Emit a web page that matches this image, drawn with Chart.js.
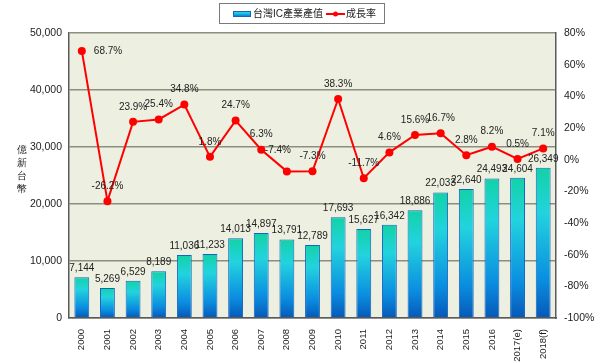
<!DOCTYPE html>
<html>
<head>
<meta charset="utf-8">
<script src="https://cdn.jsdelivr.net/npm/chart.js@4/dist/chart.umd.min.js"></script>
<style>
  html, body { margin: 0; padding: 0; background: #fff; }
  #wrap { position: relative; width: 600px; height: 363px; }
</style>
</head>
<body>
<div id="wrap"><canvas id="chart"></canvas></div>
<script>
// 台灣IC產業產值 (億新台幣) 與成長率
const years = ['2000', '2001', '2002', '2003', '2004', '2005', '2006', '2007', '2008', '2009',
  '2010', '2011', '2012', '2013', '2014', '2015', '2016', '2017(e)', '2018(f)'];
const output = [7144, 5269, 6529, 8189, 11036, 11233, 14013, 14897, 13791, 12789,
  17693, 15627, 16342, 18886, 22033, 22640, 24493, 24604, 26349];
const growth = [68.7, -26.2, 23.9, 25.4, 34.8, 1.8, 24.7, 6.3, -7.4, -7.3,
  38.3, -11.7, 4.6, 15.6, 16.7, 2.8, 8.2, 0.5, 7.1];
const seriesNames = ['台灣IC產業產值', '成長率'];
const yTitle = ['億', '新', '台', '幣'];

const FONT = "'Liberation Sans', 'Noto Sans CJK TC', sans-serif";
const TITLE_FONT = "'DejaVu Sans', sans-serif";
const C = {
  plot: '#EDEFE0', grid: '#8E8E7E', axis: '#5A5A5A', text: '#222',
  red: '#FF0000', barEdge: '#1565C0',
  g0: '#12D2A6', g1: '#22D3DE', g2: '#0A8DE0', g3: '#0658B8'
};

Chart.defaults.font.family = FONT;
Chart.defaults.font.size = 10;
Chart.defaults.color = C.text;

function barGradient(ctx, top, bottom) {
  const g = ctx.createLinearGradient(0, top, 0, bottom);
  g.addColorStop(0, C.g0);
  g.addColorStop(0.3, C.g1);
  g.addColorStop(0.75, C.g2);
  g.addColorStop(1, C.g3);
  return g;
}

// fondo del área de trazado
const plotBg = {
  id: 'plotBg',
  beforeDraw(chart) {
    const a = chart.chartArea, c = chart.ctx;
    c.save();
    c.fillStyle = C.plot;
    c.fillRect(a.left, a.top, a.right - a.left, a.bottom - a.top);
    c.restore();
  }
};

// etiquetas de datos + título vertical + leyenda con borde
const labelShift = { 0: { dx: 12, dy: 0, align: 'left' }, 8: { dx: -9, dy: -21 } };
const extras = {
  id: 'extras',
  afterDatasetsDraw(chart) {
    const c = chart.ctx;
    c.save();
    c.font = '10px ' + FONT;
    c.fillStyle = C.text;
    // barras
    const mb = chart.getDatasetMeta(1);
    c.textAlign = 'center';
    c.textBaseline = 'bottom';
    mb.data.forEach((el, i) => {
      c.fillText(output[i].toLocaleString('en-US'), el.x, el.y - 4);
    });
    // línea
    const ml = chart.getDatasetMeta(0);
    c.textBaseline = 'middle';
    ml.data.forEach((el, i) => {
      const s = labelShift[i] || { dx: 0, dy: -15 };
      c.textAlign = s.align || 'center';
      c.fillText(growth[i].toFixed(1) + '%', el.x + s.dx, el.y + s.dy);
    });
    c.restore();
  },
  afterDraw(chart) {
    const c = chart.ctx;
    c.save();
    // título eje izquierdo (caracteres apilados, sin rotar)
    c.font = '10px ' + TITLE_FONT;
    c.fillStyle = C.text;
    c.textAlign = 'center';
    c.textBaseline = 'middle';
    yTitle.forEach((ch, i) => c.fillText(ch, 22, 150 + i * 13));

    // leyenda
    const bx = 219.5, by = 3.5, bw = 165, bh = 20;
    c.fillStyle = '#fff';
    c.fillRect(bx, by, bw, bh);
    c.strokeStyle = '#7A7A7A';
    c.lineWidth = 1;
    c.strokeRect(bx, by, bw, bh);
    c.textAlign = 'left';
    c.font = '10px ' + FONT;
    // muestra barra
    c.fillStyle = barGradient(c, 11, 17);
    c.fillRect(233, 11, 18, 6);
    c.strokeStyle = C.barEdge;
    c.strokeRect(233.5, 11.5, 17, 5);
    c.fillStyle = C.text;
    c.fillText(seriesNames[0], 253, 14);
    // muestra línea
    c.strokeStyle = C.red;
    c.lineWidth = 2;
    c.beginPath();
    c.moveTo(326, 14);
    c.lineTo(345, 14);
    c.stroke();
    c.fillStyle = C.red;
    c.beginPath();
    c.arc(335.5, 14, 2.5, 0, Math.PI * 2);
    c.fill();
    c.fillStyle = C.text;
    c.fillText(seriesNames[1], 346, 14);
    c.restore();
  }
};

new Chart(document.getElementById('chart'), {
  type: 'bar',
  data: {
    labels: years,
    datasets: [
      {
        type: 'line', label: seriesNames[1], data: growth, yAxisID: 'y1', order: 0,
        borderColor: C.red, borderWidth: 2, tension: 0,
        pointRadius: 4, pointBackgroundColor: C.red, pointBorderWidth: 0
      },
      {
        type: 'bar', label: seriesNames[0], data: output, yAxisID: 'y', order: 1,
        backgroundColor: (ctx) => {
          const ys = ctx.chart.scales.y;
          if (!ys || ctx.raw == null) return C.g2;
          const top = ys.getPixelForValue(ctx.raw), base = ys.getPixelForValue(0);
          if (!Number.isFinite(top) || !Number.isFinite(base) || top === base) return C.g2;
          return barGradient(ctx.chart.ctx, top, base);
        },
        borderColor: C.barEdge, borderWidth: 1,
        categoryPercentage: 1, barPercentage: 0.58
      }
    ]
  },
  options: {
    responsive: true, maintainAspectRatio: false, animation: false,
    layout: { padding: { top: 33, left: 0, right: 0, bottom: 0 } },
    plugins: { legend: { display: false }, tooltip: { enabled: false } },
    scales: {
      x: {
        grid: { display: false },
        border: { color: C.axis, width: 1.5 },
        ticks: { maxRotation: 90, minRotation: 90, padding: 3, autoSkip: false, font: { size: 9.5 } },
        afterFit: (s) => { s.height = 45; }
      },
      y: {
        position: 'left', min: 0, max: 50000,
        grid: { color: C.grid, lineWidth: 1.5, drawTicks: false },
        border: { color: C.axis, width: 1.5 },
        ticks: { stepSize: 10000, padding: 7, font: { size: 10.5 }, callback: (v) => v.toLocaleString('en-US') },
        afterFit: (s) => { s.width = 69; }
      },
      y1: {
        position: 'right', min: -100, max: 80,
        grid: { display: false, drawTicks: false },
        border: { color: C.axis, width: 1.5 },
        ticks: { stepSize: 20, padding: 8, font: { size: 10.5 }, callback: (v) => v + '%' },
        afterFit: (s) => { s.width = 44; }
      }
    }
  },
  plugins: [plotBg, extras]
});
</script>
</body>
</html>
